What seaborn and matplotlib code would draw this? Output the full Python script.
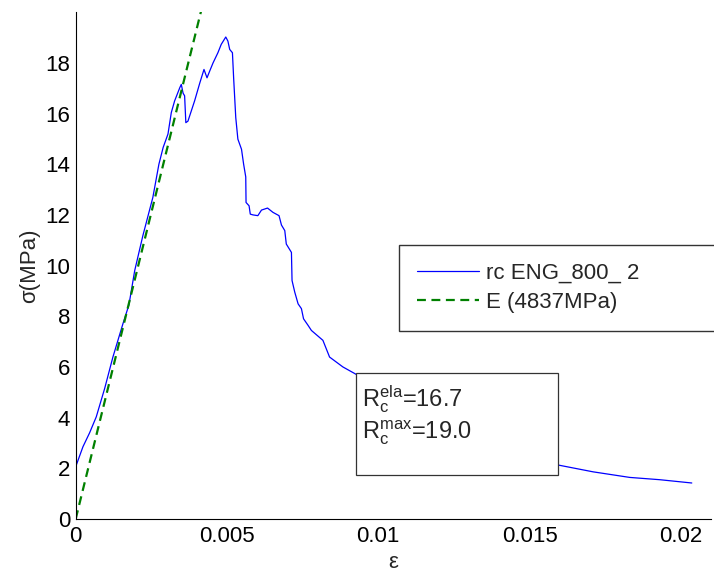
import matplotlib
matplotlib.use("Agg")
import matplotlib.pyplot as plt
import seaborn as sns
import numpy as np
import pandas as pd
from matplotlib.patches import Rectangle
from matplotlib.ticker import FuncFormatter

# 风格
sns.set_style("white")
plt.rcParams["font.family"] = ["Liberation Sans", "DejaVu Sans"]
plt.rcParams["mathtext.fontset"] = "custom"
plt.rcParams["mathtext.rm"] = "Liberation Sans"
plt.rcParams["mathtext.it"] = "Liberation Sans"

# 试验曲线
strain = [
    0.0, 0.00024, 0.00046, 0.00068, 0.00096, 0.00123, 0.00156, 0.00176,
    0.00195, 0.00222, 0.00255, 0.00275, 0.00289, 0.00305, 0.00316, 0.00327,
    0.00344, 0.00349, 0.00355, 0.00360, 0.00364, 0.00371, 0.00382, 0.00393,
    0.00410, 0.00424, 0.00434, 0.00443, 0.00454, 0.00470, 0.00481, 0.00496,
    0.00503, 0.00509, 0.00518, 0.00522, 0.00529, 0.00536, 0.00548, 0.00555,
    0.00562, 0.00563, 0.00573, 0.00577, 0.00586, 0.00602, 0.00614, 0.00634,
    0.00652, 0.00672, 0.00680, 0.00691, 0.00696, 0.00713, 0.00715, 0.00724,
    0.00735, 0.00746, 0.00753, 0.00768, 0.00779, 0.00817, 0.00828, 0.00839,
    0.00883, 0.00922, 0.0100, 0.0110, 0.0120, 0.0130, 0.0140, 0.0150,
    0.01594, 0.0171, 0.01831, 0.0193, 0.02036,
]
stress = [
    2.06, 2.85, 3.40, 4.03, 5.16, 6.39, 7.70, 8.45,
    9.80, 11.18, 12.69, 14.00, 14.66, 15.19, 16.04, 16.50,
    17.02, 17.15, 16.80, 16.70, 15.64, 15.70, 16.10, 16.50,
    17.20, 17.74, 17.41, 17.68, 18.00, 18.40, 18.73, 19.02,
    18.86, 18.53, 18.40, 17.40, 15.84, 14.99, 14.59, 14.00,
    13.50, 12.49, 12.36, 12.03, 12.00, 11.97, 12.19, 12.27,
    12.10, 11.97, 11.60, 11.38, 10.85, 10.52, 9.41, 8.95,
    8.49, 8.30, 7.90, 7.64, 7.44, 7.05, 6.72, 6.39,
    6.00, 5.74, 5.20, 4.50, 3.85, 3.30, 2.80, 2.40,
    2.13, 1.86, 1.64, 1.55, 1.42,
]

# 弹性模量拟合线
E_mod = 4837.0
fit_strain = [0.0, 0.0042]
fit_stress = [E_mod * e for e in fit_strain]

R_ela = 16.7
R_max = 19.0
label_curve = "rc ENG_800_ 2"
label_fit = f"E ({E_mod:.0f}MPa)"

df = pd.DataFrame({"strain": strain, "stress": stress})
df_fit = pd.DataFrame({"strain": fit_strain, "stress": fit_stress})

fig = plt.figure(figsize=(7.14, 5.72), dpi=100)
ax = fig.add_axes([0.106, 0.0927, 0.89, 0.886])

sns.lineplot(data=df, x="strain", y="stress", sort=False, estimator=None,
             color="#0000ff", linewidth=0.9, ax=ax, label=label_curve)
sns.lineplot(data=df_fit, x="strain", y="stress", sort=False, estimator=None,
             color="#008000", linewidth=1.6, ax=ax, label=label_fit)
ax.lines[1].set_dashes((4, 2.5))

ax.set_xlim(0, 0.021)
ax.set_ylim(0, 20)
ax.set_xticks([0, 0.005, 0.01, 0.015, 0.02])
ax.set_yticks(np.arange(0, 19, 2))
ax.xaxis.set_major_formatter(FuncFormatter(lambda v, p: f"{v:g}"))
ax.tick_params(direction="in", length=5, width=0.8, labelsize=16, pad=4,
               colors="black")
ax.tick_params(axis="x", pad=5)
sns.despine(ax=ax)
for s in ["left", "bottom"]:
    ax.spines[s].set_color("black")
    ax.spines[s].set_linewidth(0.8)

ax.set_xlabel("ε", fontsize=16, labelpad=4)
ax.set_ylabel("σ(MPa)", fontsize=16, labelpad=4)

# 图例
leg = ax.legend(loc="upper left", bbox_to_anchor=(0.5087, 0.3404, 0.52, 0.2),
                mode="expand", borderaxespad=0, fontsize=16, frameon=True,
                fancybox=False, edgecolor="black", handlelength=2.8,
                handletextpad=0.3, borderpad=0.8, labelspacing=0.36)
leg.get_frame().set_linewidth(1.0)
leg.get_lines()[0].set_linewidth(0.9)

# 强度文本框
box = Rectangle((0.441, 0.0868), 0.318, 0.2012, transform=ax.transAxes,
                facecolor="white", edgecolor="#333333", linewidth=0.9, zorder=5)
ax.add_patch(box)
ax.text(0.451, 0.268, r"R$_c^{ela}$=" + f"{R_ela:.1f}" + "\n" + r"R$_c^{max}$=" + f"{R_max:.1f}",
        transform=ax.transAxes, fontsize=17, va="top", ha="left", zorder=6,
        linespacing=1.15)

fig.savefig("out.png", dpi=100)
